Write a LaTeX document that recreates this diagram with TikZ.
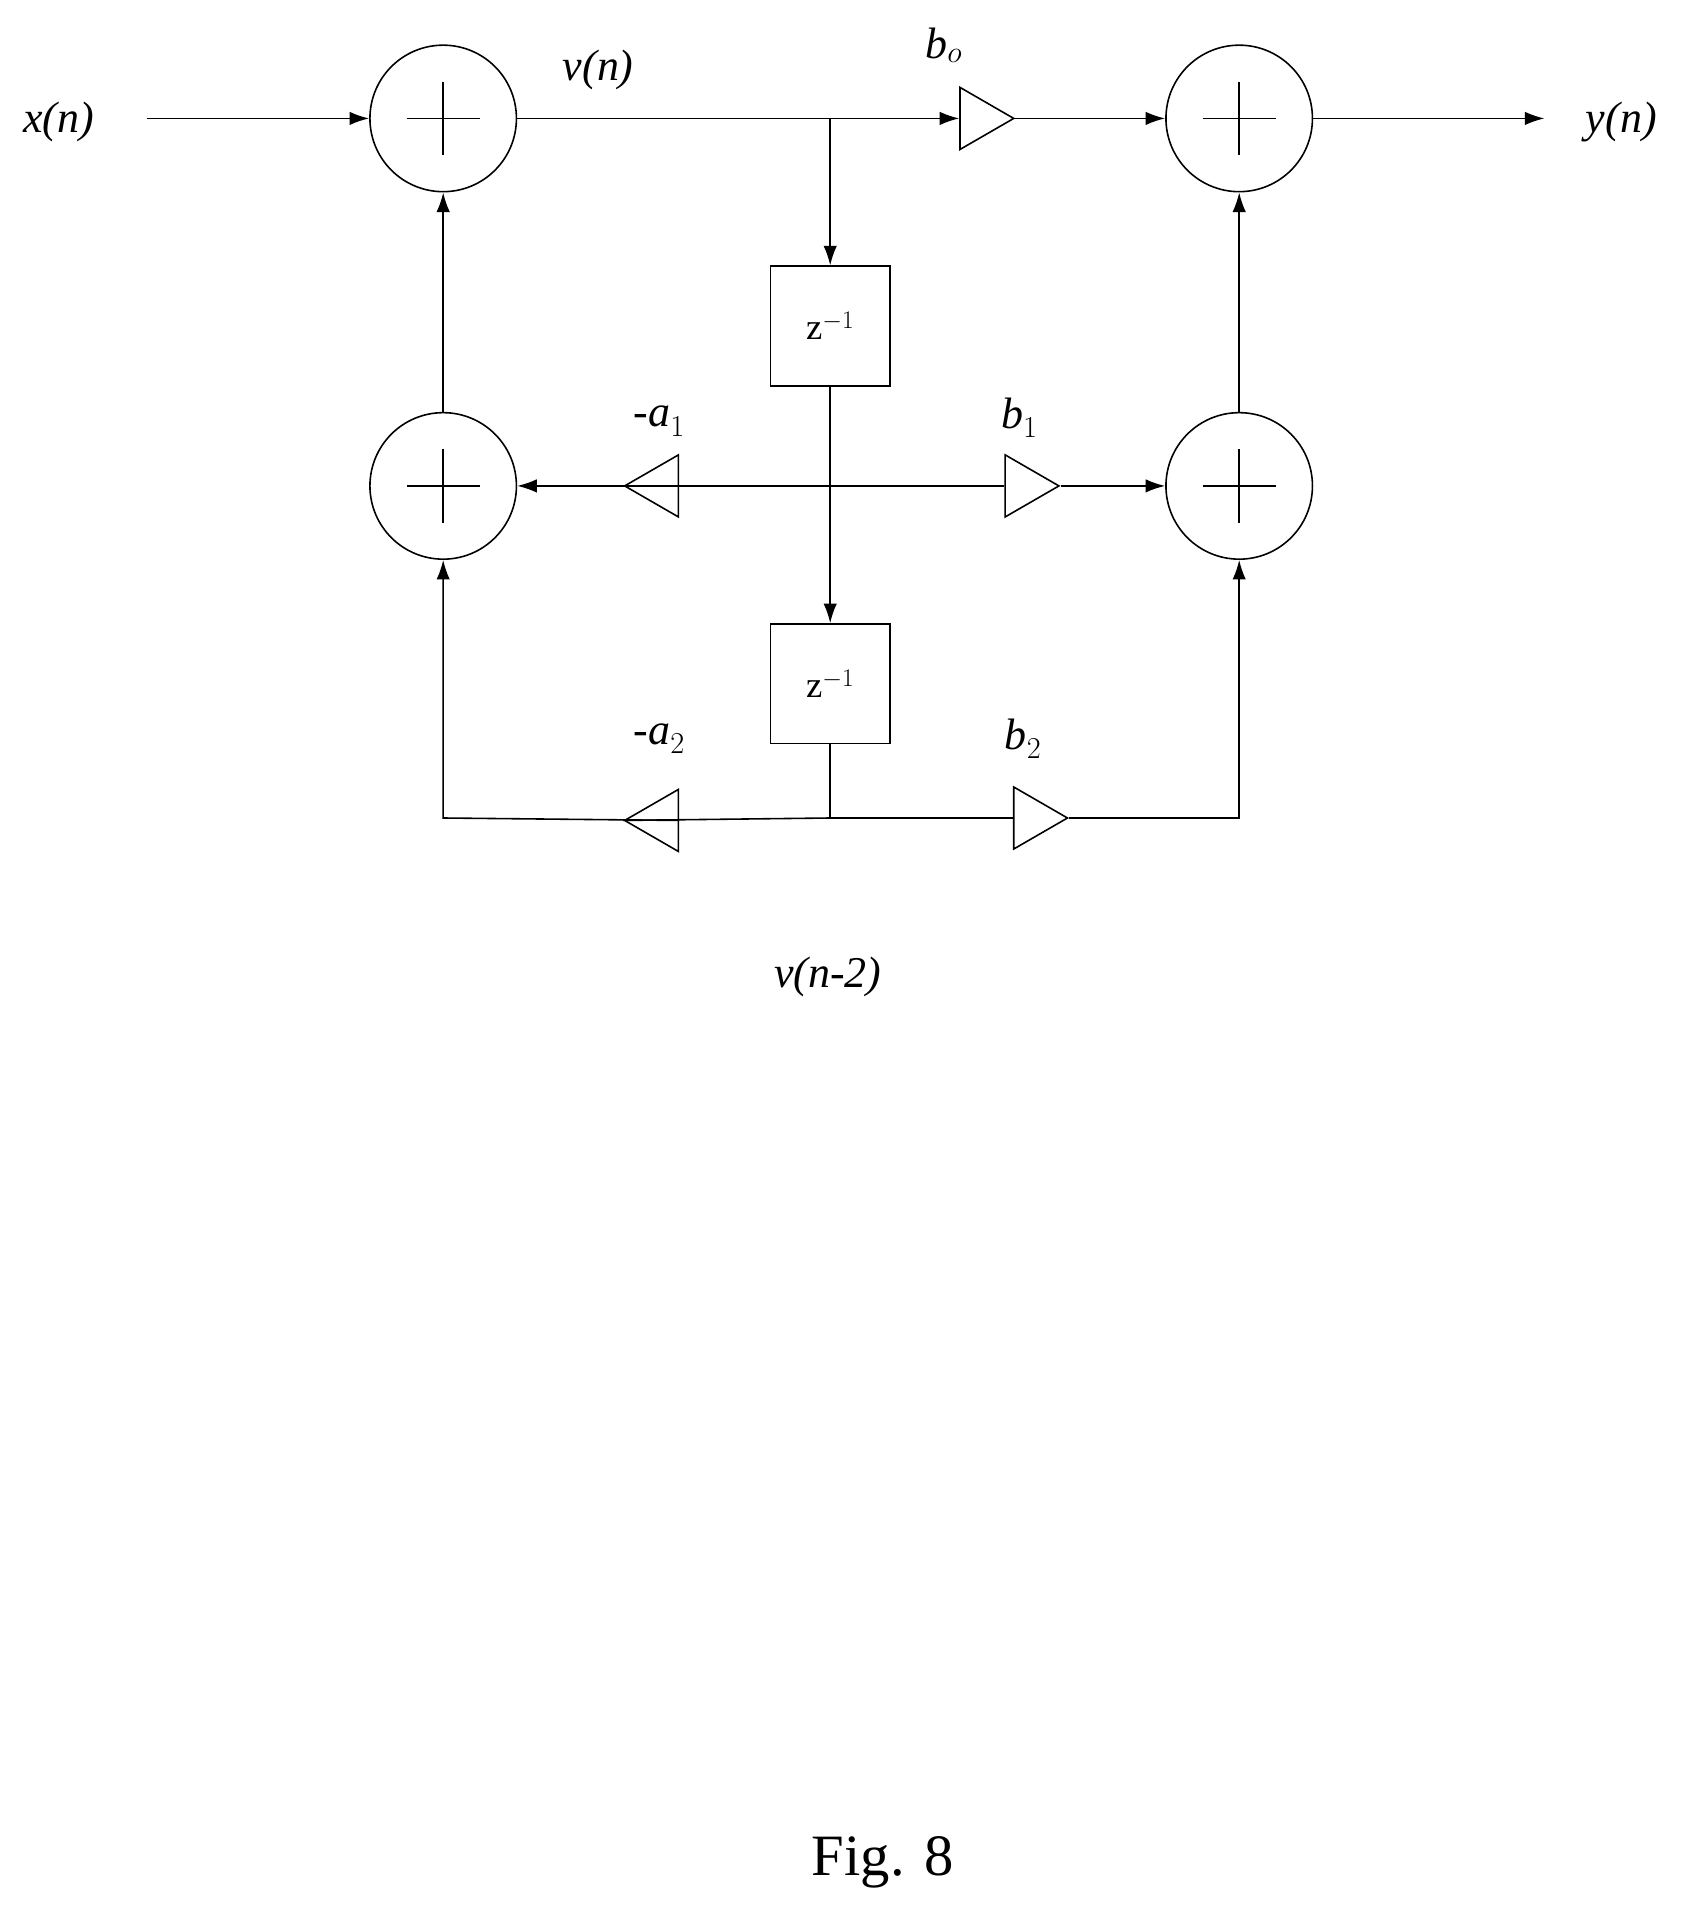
\documentclass[tikz,border=0pt]{standalone}
\usepackage{fontspec}
\setmainfont{Liberation Serif}
\usetikzlibrary{arrows.meta,shapes.geometric}
\begin{document}
\begin{tikzpicture}[x=1pt,y=-1pt,line width=1.3pt,
  adder/.style={circle,draw,minimum size=120pt,inner sep=0pt},
  delay/.style={draw,minimum width=98pt,minimum height=98pt,inner sep=0pt,font=\fontsize{30}{30}\selectfont},
  gainR/.style={isosceles triangle,draw,isosceles triangle apex angle=60,minimum height=44pt,inner sep=0pt,shape border rotate=0},
  gainL/.style={gainR,shape border rotate=180},
  lab/.style={font=\fontsize{36}{36}\selectfont\itshape},
  arr/.style={-{Latex[length=16pt,width=11pt]}}]
\useasboundingbox (0,0) rectangle (1380,1571);
\newcommand\plusin[1]{\draw ([xshift=-30pt]#1.center) -- ([xshift=30pt]#1.center) ([yshift=-30pt]#1.center) -- ([yshift=30pt]#1.center);}
\node[adder] (s1) at (363,97) {};
\node[adder] (s2) at (1015,97) {};
\node[adder] (s3) at (363,398) {};
\node[adder] (s4) at (1015,398) {};
\plusin{s1}\plusin{s2}\plusin{s3}\plusin{s4}
\node[delay] (d1) at (680,267) {z$^{-1}$};
\node[delay] (d2) at (680,560) {z$^{-1}$};
\node[gainR] (b0) at (801,97) {};
\node[gainL] (a1) at (541,398) {};
\node[gainR] (b1) at (838,398) {};
\node[gainL] (a2) at (541,672) {};
\node[gainR] (b2) at (845,670) {};
\coordinate (xin) at (120,97);
\coordinate (yout) at (1265,97);
\coordinate (j1) at (680,97);
\coordinate (j2) at (680,398);
\coordinate (j3) at (680,670);
\coordinate (c3) at (363,670);
\coordinate (c4) at (1015,670);
\draw[arr] (xin) -- (s1);
\draw[arr] (s1) -- (b0.west);
\draw[arr] (b0.east) -- (s2);
\draw[arr] (s2) -- (yout);
\draw[arr] (j1) -- (d1.north);
\draw[arr] (d1.south) -- (d2.north);
\draw (a1.west) -- (b1.west);
\draw[arr] (a1.east) -- (s3);
\draw[arr] (b1.east) -- (s4);
\draw[arr] (s3) -- (s1);
\draw[arr] (s4) -- (s2);
\draw (d2.south) -- (j3);
\draw (a2.west) -- (j3) -- (b2.west);
\draw[arr] (a2.east) -- (c3) -- (s3);
\draw[arr] (b2.east) -- (c4) -- (s4);
\node[lab] (tx) at (48,100) {x(n)};
\node[lab] (tv) at (490,57) {v(n)};
\node[lab] (tb0) at (773,37) {b$_o$};
\node[lab] (ty) at (1328,100) {y(n)};
\node[lab] (ta1) at (540,345) {-a$_1$};
\node[lab] (tb1) at (835,342) {b$_1$};
\node[lab] (ta2) at (540,605) {-a$_2$};
\node[lab] (tb2) at (838,605) {b$_2$};
\node[lab] (tv2) at (678,800) {v(n-2)};
\node[font=\fontsize{48}{48}\selectfont] (fig) at (723,1525) {Fig. 8};
\end{tikzpicture}
\end{document}
